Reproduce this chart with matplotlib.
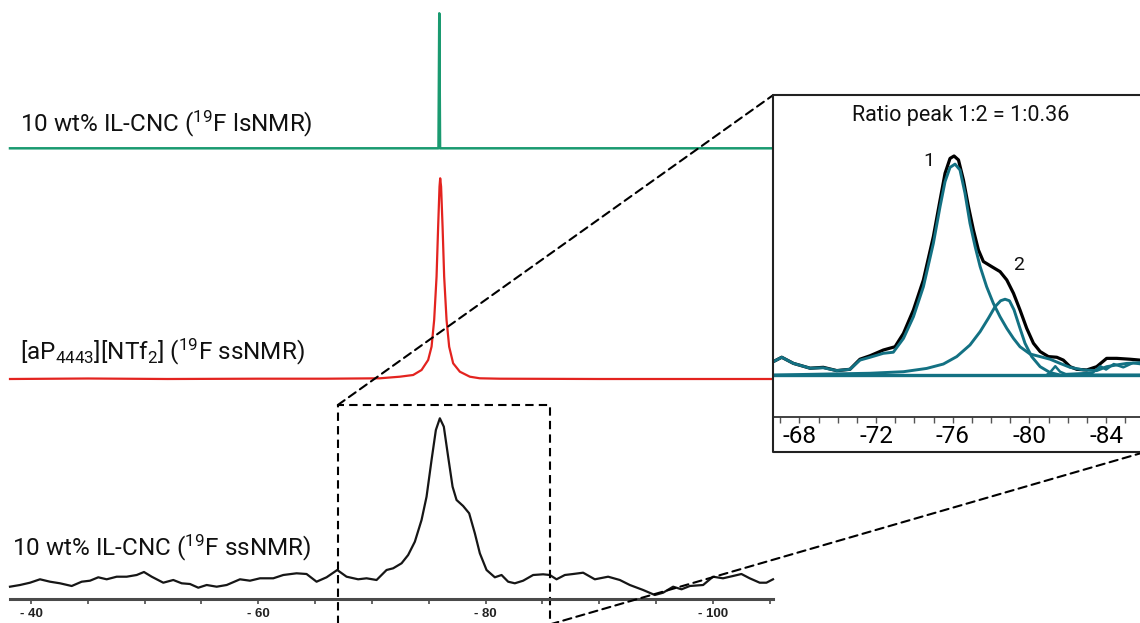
import matplotlib
matplotlib.use("Agg")
import matplotlib.pyplot as plt
from matplotlib.ticker import MultipleLocator, FixedLocator, FuncFormatter
from matplotlib.lines import Line2D
from matplotlib.patches import ConnectionPatch

# ---------------- data ----------------
# main panel, chemical shift in ppm, intensity in arbitrary units
black_ppm = [-38.15, -39.03, -39.91, -40.79, -41.67, -42.55, -43.58, -44.46, -45.19, -45.92,
             -46.66, -47.54, -48.42, -49.30, -49.94, -50.62, -51.64, -52.52, -53.26, -53.99,
             -54.72, -55.46, -56.34, -57.22, -58.39, -59.27, -60.15, -61.32, -62.20, -63.37,
             -64.25, -65.13, -66.01, -66.95, -67.77, -68.79, -69.53, -70.41, -71.29, -71.87,
             -72.61, -73.19, -73.78, -74.37, -74.81, -75.25, -75.63, -75.98, -76.33, -76.71,
             -77.10, -77.45, -78.03, -78.56, -79.06, -79.50, -80.09, -80.82, -81.41, -81.99,
             -82.58, -83.31, -84.19, -85.07, -85.66, -86.25, -86.98, -87.71, -88.59, -89.62,
             -90.79, -91.82, -92.70, -93.87, -94.90, -95.63, -96.51, -97.25, -97.98, -99.15,
             -100.02, -100.90, -101.78, -102.52, -103.25, -104.13, -104.72, -105.30]
black_int = [-1.7, 0.0, 2.3, 5.7, 3.3, 1.7, -1.0, 3.3, 4.3, 7.7,
             5.7, 8.3, 8.3, 10.0, 13.0, 8.3, 2.3, 5.0, 1.7, 1.0,
             -2.7, 0.0, -1.7, 0.0, 5.7, 4.3, 6.7, 6.7, 10.0, 11.7,
             11.0, 3.3, 7.7, 15.0, 8.3, 5.7, 6.7, 5.0, 15.0, 16.7,
             21.7, 30.0, 43.3, 65.0, 88.3, 125.0, 155.0, 166.7, 158.3, 128.3,
             98.3, 85.0, 79.0, 71.7, 51.7, 31.7, 15.0, 7.7, 10.0, 3.3,
             1.7, 4.3, 10.0, 10.7, 10.0, 5.7, 10.0, 11.0, 12.3, 5.7,
             8.3, 5.0, 0.0, -5.0, -10.0, -7.7, -1.7, -4.3, -1.0, 0.0,
             8.3, 6.7, 9.0, 11.0, 6.7, 2.3, 2.3, 5.7]

red_ppm = [-38.15, -45.0, -52.0, -60.0, -66.0, -70.70, -72.46, -73.63, -74.37, -74.95,
           -75.25, -75.48, -75.69, -75.83, -75.95, -76.01, -76.09, -76.22, -76.36, -76.57,
           -76.80, -77.15, -77.74, -78.62, -79.50, -81.26, -90.0, -105.30]
red_int = [0.0, 0.5, 0.0, 0.3, 0.3, 0.7, 2.3, 4.0, 9.0, 19.0,
           32.3, 59.0, 102.3, 152.3, 192.3, 200.7, 192.3, 152.3, 102.3, 59.0,
           32.3, 15.7, 7.3, 2.3, 0.7, 0.3, 0.0, 0.0]

green_ppm = [-38.15, -75.86, -75.93, -76.00, -105.30]
green_int = [0.0, 0.0, 135.0, 0.0, 0.0]

main_ticks = [-40, -60, -80, -100]
zoom_range = [-67.0, -85.7]

# inset, intensity normalised to the experimental maximum
inset_black_ppm = [-66.64, -67.08, -67.69, -68.56, -69.25, -69.95, -70.64, -71.16, -71.69, -72.38,
                   -72.99, -73.43, -73.95, -74.47, -74.99, -75.34, -75.60, -75.86, -76.07, -76.30,
                   -76.56, -76.82, -77.08, -77.34, -77.60, -78.03, -78.47, -78.82, -79.17, -79.51,
                   -79.86, -80.21, -80.56, -80.99, -81.43, -81.77, -82.12, -82.47, -82.99, -83.51,
                   -84.03, -84.56, -85.25, -85.77]
inset_black_int = [0.061, 0.081, 0.053, 0.031, 0.035, 0.020, 0.026, 0.072, 0.088, 0.114,
                   0.129, 0.190, 0.297, 0.434, 0.632, 0.799, 0.921, 0.989, 1.000, 0.982,
                   0.890, 0.769, 0.662, 0.571, 0.518, 0.495, 0.472, 0.434, 0.373, 0.297,
                   0.213, 0.145, 0.107, 0.084, 0.081, 0.068, 0.038, 0.026, 0.023, 0.038,
                   0.076, 0.076, 0.072, 0.068]

fit1_ppm = [-66.64, -67.08, -67.69, -68.56, -69.25, -69.95, -70.64, -71.16, -71.69, -72.38,
            -72.90, -73.43, -73.95, -74.47, -74.99, -75.34, -75.60, -75.86, -76.12, -76.38,
            -76.64, -76.90, -77.17, -77.43, -77.77, -78.12, -78.47, -78.82, -79.17, -79.51,
            -80.03, -80.56, -81.08, -81.60, -82.12, -82.82, -83.51, -84.03, -84.56, -85.08,
            -85.77]
fit1_int = [0.061, 0.081, 0.053, 0.031, 0.033, 0.020, 0.026, 0.068, 0.081, 0.099,
            0.104, 0.167, 0.266, 0.403, 0.601, 0.769, 0.883, 0.948, 0.963, 0.936,
            0.830, 0.693, 0.586, 0.495, 0.403, 0.327, 0.266, 0.213, 0.167, 0.129,
            0.096, 0.084, 0.072, 0.053, 0.035, 0.023, 0.020, 0.038, 0.046, 0.053,
            0.056]

fit2_ppm = [-66.64, -71.69, -73.43, -74.64, -75.51, -76.21, -76.90, -77.43, -77.86, -78.21,
            -78.50, -78.73, -78.96, -79.20, -79.48, -79.77, -80.12, -80.56, -81.08, -81.60,
            -85.77]
fit2_int = [0.0, 0.008, 0.015, 0.030, 0.050, 0.084, 0.137, 0.198, 0.259, 0.312,
            0.339, 0.346, 0.339, 0.297, 0.221, 0.145, 0.084, 0.038, 0.011, 0.0,
            0.0]

base_ppm = [-66.64, -85.77]
base_int = [0.0, 0.0]

bump_ppm = [-80.9, -81.08, -81.35, -81.6, -81.9, -83.3, -83.7, -84.0, -84.4, -84.9, -85.4, -85.77]
bump_int = [0.0, 0.012, 0.040, 0.015, 0.004, 0.010, 0.040, 0.025, 0.050, 0.035, 0.055, 0.050]

inset_ticks = [-68, -72, -76, -80, -84]

title_text = "Ratio peak 1:2 = 1:0.36"
label_ls = r"10 wt% IL-CNC ($\mathregular{^{19}}$F lsNMR)"
label_il = r"[aP$\mathregular{_{4443}}$][NTf$\mathregular{_2}$] ($\mathregular{^{19}}$F ssNMR)"
label_ss = r"10 wt% IL-CNC ($\mathregular{^{19}}$F ssNMR)"

# ---------------- styling ----------------
FONT = "Roboto"
plt.rcParams["font.family"] = [FONT, "DejaVu Sans"]
plt.rcParams["mathtext.fontset"] = "custom"
plt.rcParams["mathtext.rm"] = FONT
plt.rcParams["mathtext.it"] = FONT + ":italic"
plt.rcParams["mathtext.bf"] = FONT + ":bold"
plt.rcParams["axes.unicode_minus"] = False

W, H = 1140, 623
fig = plt.figure(figsize=(W / 100, H / 100), dpi=100)


def fx(px):
    return px / W


def fy(py):
    return 1 - py / H


# ---------------- main panel ----------------
axis_y = 599.3
ax = fig.add_axes([fx(10), fy(axis_y), (773 - 10) / W, axis_y / H])
ax.set_xlim(-38.15, -105.3)
ax.set_ylim(0, axis_y)
ax.patch.set_alpha(0)

off_black = axis_y - 585.0
off_red = axis_y - 379.0
off_green = axis_y - 148.3

ax.plot(black_ppm, [v + off_black for v in black_int], color="#161616", lw=1.6, clip_on=False,
        solid_joinstyle="round")
ax.plot(red_ppm, [v + off_red for v in red_int], color="#e3231f", lw=1.6, clip_on=False)
ax.plot(green_ppm, [v + off_green for v in green_int], color="#1a9a70", lw=1.8, clip_on=False)

for s in ["left", "right", "top"]:
    ax.spines[s].set_visible(False)
ax.spines["bottom"].set_color("#4a4a4a")
ax.spines["bottom"].set_linewidth(2.2)
ax.set_yticks([])
ax.xaxis.set_major_locator(FixedLocator(main_ticks))
ax.xaxis.set_minor_locator(MultipleLocator(5))
ax.xaxis.set_major_formatter(FuncFormatter(lambda v, p: "- %d" % abs(int(round(v)))))
ax.tick_params(axis="x", which="both", direction="out", length=3.5, width=1.2, color="#4a4a4a")
ax.tick_params(axis="x", which="major", labelsize=9.5, pad=2.5)
for t in ax.get_xticklabels():
    t.set_fontweight("bold")
    t.set_family(["Liberation Sans Narrow", "Liberation Sans", "DejaVu Sans"])
    t.set_color("#222222")

LBL = 17.5
fig.text(fx(20.0), fy(131.7), label_ls, fontsize=LBL, va="baseline", ha="left", color="#111")
fig.text(fx(20.0), fy(359.5), label_il, fontsize=LBL, va="baseline", ha="left", color="#111")
fig.text(fx(12.0), fy(555.0), label_ss, fontsize=LBL, va="baseline", ha="left", color="#111")

# dashed selection box
box_top = axis_y - 405.0
box_bot = -25.0
dash = (0, (4, 2.5))
ax.plot([zoom_range[0], zoom_range[0], zoom_range[1], zoom_range[1]],
        [box_bot, box_top, box_top, box_bot], color="black", lw=1.5, ls=dash, clip_on=False)

# ---------------- inset ----------------
in_left, in_right, in_top, in_axis, in_bottom = 773.3, 1140.0, 95.0, 416.5, 451.7
axins = fig.add_axes([fx(in_left), fy(in_axis), (in_right - in_left) / W, (in_axis - in_top) / H])
axins.set_xlim(-66.64, -85.77)
axins.set_ylim(-0.1895, 1.2785)
axins.set_facecolor("white")
for s in ["left", "right", "top"]:
    axins.spines[s].set_visible(False)
axins.spines["bottom"].set_color("#333333")
axins.spines["bottom"].set_linewidth(1.3)
axins.set_yticks([])
axins.xaxis.set_major_locator(FixedLocator(inset_ticks))
axins.xaxis.set_minor_locator(MultipleLocator(1))
axins.tick_params(axis="x", which="both", direction="out", length=4, width=1.0, color="#555555")
axins.tick_params(axis="x", which="major", labelsize=17.5, pad=2)

teal = "#137183"
axins.plot(inset_black_ppm, inset_black_int, color="black", lw=2.3, solid_joinstyle="round")
axins.plot(base_ppm, base_int, color=teal, lw=2.4)
axins.plot(fit2_ppm, fit2_int, color=teal, lw=2.1)
axins.plot(bump_ppm, bump_int, color=teal, lw=1.8)
axins.plot(fit1_ppm, fit1_int, color=teal, lw=2.1, solid_joinstyle="round")

fig.text(fx(960.8), fy(115.0), title_text, fontsize=15.5, ha="center", va="center", color="#111")
fig.text(fx(929.3), fy(160.7), "1", fontsize=14, ha="center", va="center", color="#111")
fig.text(fx(1018.3), fy(265.0), "2", fontsize=14, ha="center", va="center", color="#111")

# outer frame of the inset
fig.add_artist(Line2D([fx(1146), fx(in_left), fx(in_left), fx(1146)],
                      [fy(in_top), fy(in_top), fy(in_bottom), fy(in_bottom)],
                      transform=fig.transFigure, color="#222222", lw=1.5))

# connector lines
c1 = ConnectionPatch(xyA=(zoom_range[0], box_top), coordsA=ax.transData,
                     xyB=(0.0, 1.0), coordsB=axins.transAxes,
                     color="black", lw=1.5, ls=dash)
c2 = ConnectionPatch(xyA=(zoom_range[1], box_bot), coordsA=ax.transData,
                     xyB=(1.0136, -0.1104), coordsB=axins.transAxes,
                     color="black", lw=1.5, ls=dash)
fig.add_artist(c1)
fig.add_artist(c2)

fig.savefig("out.png", dpi=100)
